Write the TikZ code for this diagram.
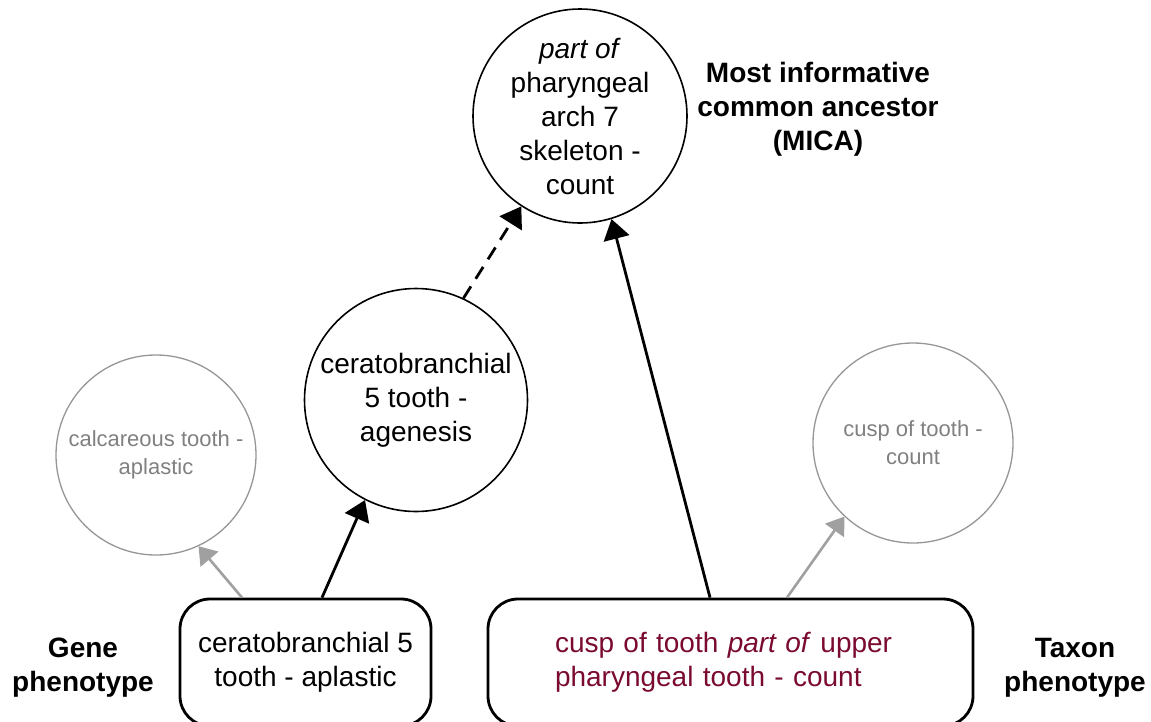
\documentclass[tikz,border=0pt]{standalone}
\usepackage{fontspec}
\setmainfont{Liberation Sans}
\usetikzlibrary{arrows.meta}
\definecolor{termred}{RGB}{122,10,48}
\definecolor{greyline}{RGB}{150,150,150}
\definecolor{greytext}{RGB}{128,128,128}
\definecolor{greyarrow}{RGB}{160,160,160}
\begin{document}
\begin{tikzpicture}[x=1pt,y=-1pt,
  bigfont/.style={font=\fontsize{28}{34}\selectfont},
  smallfont/.style={font=\fontsize{22}{28}\selectfont},
  maincircle/.style={circle,draw=black,line width=1.6pt,inner sep=-30pt,align=center,bigfont},
  greycircle/.style={circle,draw=greyline,line width=1.3pt,inner sep=-30pt,minimum size=200pt,align=center,smallfont,text=greytext},
  phenobox/.style={rectangle,rounded corners=30pt,draw=black,line width=2.8pt,inner sep=0pt,minimum height=127pt,bigfont},
  sidelabel/.style={font=\fontsize{28}{34}\selectfont\bfseries,align=center},
  blackarrow/.style={-{Triangle[length=20pt,width=26pt]},line width=2.8pt,black},
  greyarrowline/.style={-{Triangle[length=17pt,width=23pt]},line width=2.6pt,greyarrow},
]
\useasboundingbox (0,0) rectangle (1151,721);

\node[maincircle,minimum size=214pt] (mica) at (580,116)
  {\textit{part of}\\pharyngeal\\arch 7\\skeleton -\\count};
\node[maincircle,minimum size=223pt] (mid) at (416,400)
  {ceratobranchial\\5 tooth -\\agenesis};
\node[greycircle] (lg) at (156,455) {calcareous tooth -\\aplastic};
\node[greycircle] (rg) at (913,443) {cusp of tooth -\\count};

\node[phenobox,minimum width=251pt,align=center] (lb) at (305.5,662.5)
  {ceratobranchial 5\\tooth - aplastic};
\node[phenobox,minimum width=485pt,text width=351pt,align=left,text=termred] (rb) at (730.5,662.5)
  {cusp of tooth \textit{part of} upper\\pharyngeal tooth - count};

\node[sidelabel] (micalabel) at (818,109) {Most informative\\common ancestor\\(MICA)};
\node[sidelabel] (genelabel) at (83,668) {Gene\\phenotype};
\node[sidelabel] (taxonlabel) at (1075,668) {Taxon\\phenotype};

\draw[greyarrowline] ([xshift=-63.5pt]lb.north) -- (lg.-65);
\draw[blackarrow] ([xshift=16.5pt]lb.north) -- (mid.-117);
\draw[blackarrow,dash pattern=on 14pt off 9pt] (mid.65.5) -- (mica.-123);
\draw[blackarrow] ([xshift=-20.5pt]rb.north) -- (mica.-73);
\draw[greyarrowline] ([xshift=56.5pt]rb.north) -- (rg.-133);
\end{tikzpicture}
\end{document}
